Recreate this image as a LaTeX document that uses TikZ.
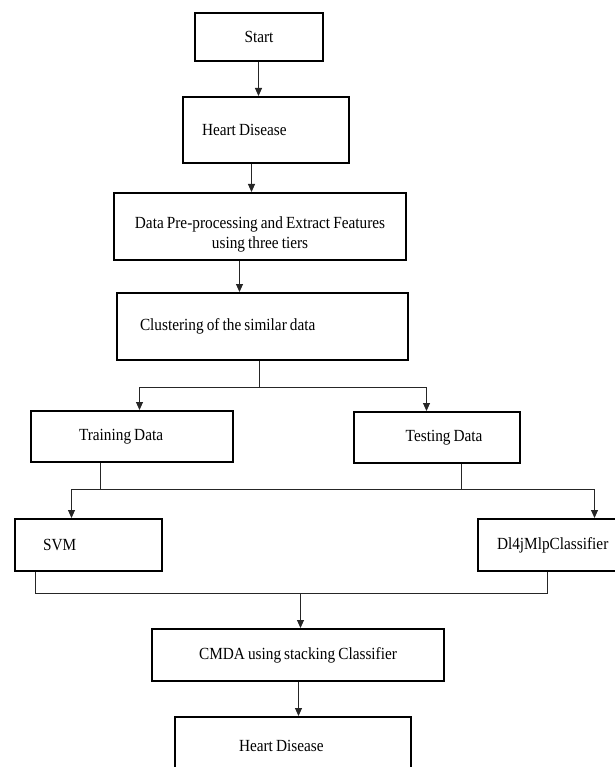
\documentclass[tikz,border=0pt]{standalone}
\usepackage{fontspec}
\setmainfont{Liberation Serif}[FakeStretch=0.9, WordSpace=0.8]
\usetikzlibrary{arrows.meta}

\tikzset{
    box/.style={draw=black, line width=2pt, rectangle, inner sep=0pt, font=\fontsize{17}{20}\selectfont},
    arr/.style={black!85, line width=0.9pt, -{Triangle[length=8pt, width=7pt]}},
    link/.style={black!85, line width=0.9pt}
}

\begin{document}
\begin{tikzpicture}[x=1pt, y=-1pt]
                        \useasboundingbox (0,0) rectangle (614,767);
                        % boxes
                        \node[box, minimum width=128pt, minimum height=48pt] (start) at (259,37) {Start};
                        \node[box, minimum width=166pt, minimum height=66pt, text width=128pt, align=flush left] (hd1) at (266,130) {Heart Disease};
                        \node[box, minimum width=292pt, minimum height=67pt, text width=270pt, align=flush center] (dp) at (260,226.5) {\rule{0pt}{28pt}Data Pre-processing and Extract Features\\ using three tiers};
                        \node[box, minimum width=291pt, minimum height=67pt, text width=245pt, align=flush left] (cl) at (262.5,326.5) {Clustering of the similar data};
                        \node[box, minimum width=202pt, minimum height=51pt, text width=106pt, align=flush left] (train) at (132,436.5) {Training Data};
                        \node[box, minimum width=166pt, minimum height=51pt, text width=91pt, align=flush right] (test) at (437,437.5) {Testing Data};
                        \node[box, minimum width=147pt, minimum height=52pt, text width=91pt, align=flush left] (svm) at (88.5,545) {SVM};
                        \node[box, minimum width=152pt, minimum height=52pt, text width=114pt, align=flush left] (dl4j) at (554,545) {Dl4jMlpClassifier};
                        \node[box, minimum width=292pt, minimum height=52pt] (cmda) at (298,655) {CMDA using stacking Classifier};
                        \node[box, minimum width=236pt, minimum height=58pt, text width=108pt, align=flush left] (hd2) at (293,746) {Heart Disease};
                        % straight arrows
                        \draw[arr] (start.south -| 258.5,0) -- (hd1.north -| 258.5,0);
                        \draw[arr] (hd1.south -| 251.5,0) -- (dp.north -| 251.5,0);
                        \draw[arr] (dp.south -| 239.5,0) -- (cl.north -| 239.5,0);
                        % split to training and testing
                        \draw[link] (cl.south -| 259.5,0) -- (259.5,387.5) coordinate (s1);
                        \draw[arr] (s1) -| (train.north -| 139.5,0);
                        \draw[arr] (s1) -| (test.north -| 426.5,0);
                        % split to the classifiers
                        \draw[link] (train.south -| 100.5,0) -- (100.5,489.5) coordinate (s2);
                        \draw[link] (test.south -| 461.5,0) -- (461.5,489.5) coordinate (s3);
                        \draw[link] (s2) -- (s3);
                        \draw[arr] (s2) -| (svm.north -| 71.5,0);
                        \draw[arr] (s3) -| (dl4j.north -| 594.5,0);
                        % join into the stacking classifier
                        \draw[link] (svm.south -| 35.5,0) -- (35.5,593.5) -- (547.5,593.5) -- (dl4j.south -| 547.5,0);
                        \coordinate (m) at (300.5,593.5);
                        \draw[arr] (m) -- (cmda.north -| 300.5,0);
                        \draw[arr] (cmda.south -| 298.5,0) -- (hd2.north -| 298.5,0);
                    \end{tikzpicture}
\end{document}
